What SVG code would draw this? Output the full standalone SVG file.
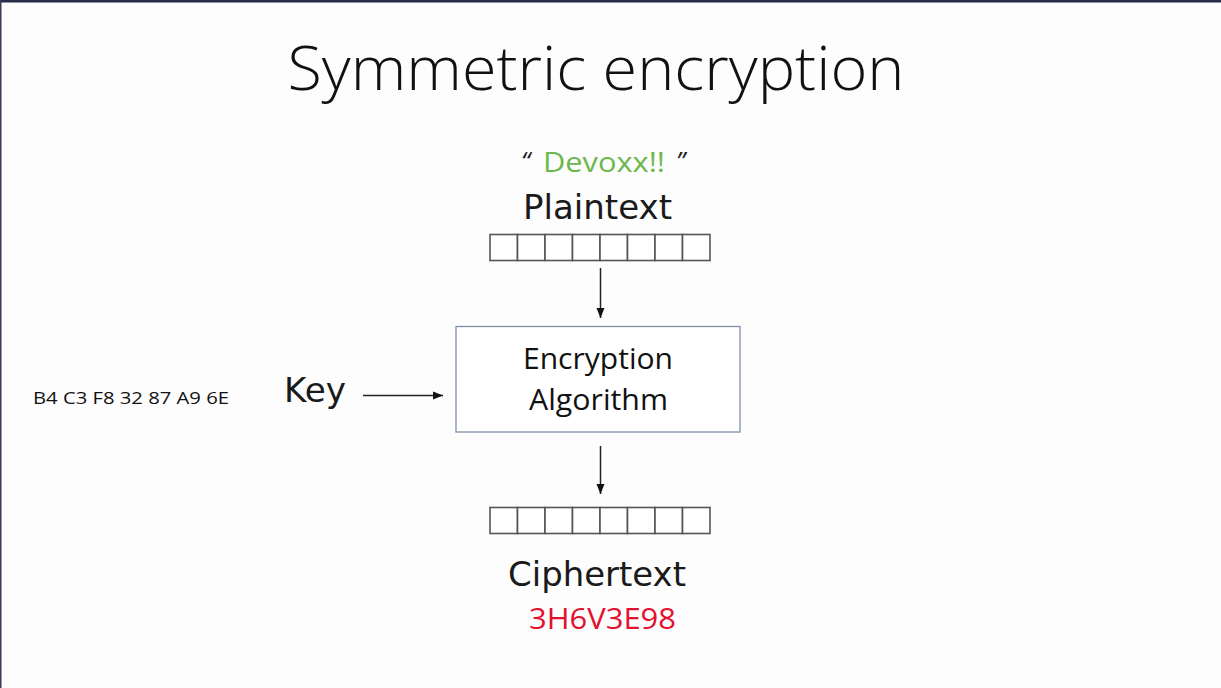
<svg xmlns="http://www.w3.org/2000/svg" width="1221" height="688" viewBox="0 0 1221 688">
<style>
.cal{font-family:"Open Sans","Liberation Sans",sans-serif}
.dv{font-family:"DejaVu Sans",sans-serif;fill:#1a1a1a}
.cell{fill:#fff;stroke:#555;stroke-width:1.6}
.ln{stroke:#222;stroke-width:1.5;fill:none}
</style>
<defs>
<marker id="ah" viewBox="0 0 10 10" refX="10" refY="5" markerWidth="10" markerHeight="10" markerUnits="userSpaceOnUse" orient="auto">
<path d="M0,1 L10,5 L0,9 z" fill="#111"/>
</marker>
</defs>
<rect width="1221" height="688" fill="#fdfdfd"/>
<rect width="1221" height="2.5" fill="#2a2d4a"/>
<rect width="1.5" height="688" fill="#3a3d5a"/>
<g id="title"><text class="cal" x="596" y="90" font-size="60" font-weight="300" text-anchor="middle" fill="#111" textLength="617" lengthAdjust="spacingAndGlyphs">Symmetric encryption</text></g>
<g id="plaintext">
<text class="cal" x="521" y="170" font-size="26" fill="#222" font-style="italic">“</text>
<text class="cal" x="543" y="172" font-size="28" fill="#6cb84c" textLength="122" lengthAdjust="spacingAndGlyphs">Devoxx!!</text>
<text class="cal" x="676" y="170" font-size="26" fill="#222" font-style="italic">”</text>
<text class="dv" x="597.5" y="219" font-size="33" text-anchor="middle" textLength="149" lengthAdjust="spacingAndGlyphs">Plaintext</text>
<g>
<rect class="cell" x="490" y="234.5" width="27.5" height="26"/><rect class="cell" x="517.5" y="234.5" width="27.5" height="26"/><rect class="cell" x="545" y="234.5" width="27.5" height="26"/><rect class="cell" x="572.5" y="234.5" width="27.5" height="26"/><rect class="cell" x="600" y="234.5" width="27.5" height="26"/><rect class="cell" x="627.5" y="234.5" width="27.5" height="26"/><rect class="cell" x="655" y="234.5" width="27.5" height="26"/><rect class="cell" x="682.5" y="234.5" width="27.5" height="26"/>
</g>
</g>
<g id="algorithm">
<rect x="456" y="326.5" width="284" height="105.5" fill="#fff" stroke="#8090a8" stroke-width="1.3"/>
<text class="cal" x="598" y="369" font-size="29" text-anchor="middle" fill="#111" textLength="150" lengthAdjust="spacingAndGlyphs">Encryption</text>
<text class="cal" x="598.5" y="410" font-size="29" text-anchor="middle" fill="#111" textLength="139" lengthAdjust="spacingAndGlyphs">Algorithm</text>
</g>
<g id="key">
<text class="cal" x="33" y="404" font-size="17" fill="#111" textLength="196" lengthAdjust="spacingAndGlyphs">B4 C3 F8 32 87 A9 6E</text>
<text class="dv" x="284" y="402" font-size="33" textLength="62" lengthAdjust="spacingAndGlyphs">Key</text>
</g>
<g id="ciphertext">
<g>
<rect class="cell" x="490" y="507.5" width="27.5" height="26"/><rect class="cell" x="517.5" y="507.5" width="27.5" height="26"/><rect class="cell" x="545" y="507.5" width="27.5" height="26"/><rect class="cell" x="572.5" y="507.5" width="27.5" height="26"/><rect class="cell" x="600" y="507.5" width="27.5" height="26"/><rect class="cell" x="627.5" y="507.5" width="27.5" height="26"/><rect class="cell" x="655" y="507.5" width="27.5" height="26"/><rect class="cell" x="682.5" y="507.5" width="27.5" height="26"/>
</g>
<text class="dv" x="597" y="586" font-size="33" text-anchor="middle" textLength="178" lengthAdjust="spacingAndGlyphs">Ciphertext</text>
<text class="cal" x="602.5" y="629" font-size="30" text-anchor="middle" fill="#e3102e" textLength="147" lengthAdjust="spacingAndGlyphs">3H6V3E98</text>
</g>
<g id="connectors">
<line class="ln" x1="600.5" y1="268" x2="600.5" y2="318" marker-end="url(#ah)"/>
<line class="ln" x1="363" y1="395.5" x2="443" y2="395.5" marker-end="url(#ah)"/>
<line class="ln" x1="600.5" y1="446" x2="600.5" y2="494" marker-end="url(#ah)"/>
</g>
</svg>
